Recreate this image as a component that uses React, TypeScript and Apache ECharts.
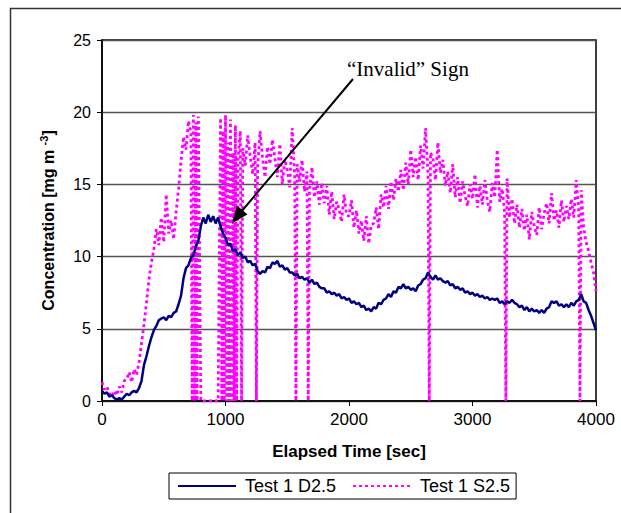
import React, { useEffect, useRef } from "react";
import * as echarts from "echarts";

// Sampling interval of both records (seconds)
const STEP = 20;

// Test 1 D2.5 concentration (mg m-3), one value every 20 s from 0 to 4000 s
const dValues = [
  0.7, 0.5, 0.6, 0.3, 0.4, 0.2, 0.1, 0.2, 0.1, 0.3,
  0.5, 0.4, 0.6, 0.7, 0.6, 0.9, 1.4, 2.5, 3.1, 3.8,
  4.4, 4.9, 5.2, 5.6, 5.7, 5.8, 5.6, 5.9, 5.8, 6.1,
  6.2, 6.7, 7.3, 8.5, 9.2, 9.4, 9.9, 10.1, 10.7, 11.1,
  12.1, 12.7, 12.3, 12.9, 12.4, 12.8, 12.3, 12.7, 12.1, 11.6,
  11.3, 10.8, 10.9, 10.4, 10.5, 10.1, 10.3, 9.9, 10.0, 9.6,
  9.7, 9.4, 9.5, 9.0, 8.8, 9.0, 8.9, 9.3, 9.2, 9.6,
  9.5, 9.7, 9.3, 9.4, 9.1, 9.2, 8.9, 8.9, 8.7, 8.8,
  8.5, 8.6, 8.4, 8.5, 8.2, 8.4, 8.1, 8.2, 7.9, 7.8,
  7.8, 7.5, 7.6, 7.4, 7.5, 7.3, 7.4, 7.1, 7.2, 7.0,
  7.1, 6.8, 6.9, 6.7, 6.8, 6.5, 6.6, 6.3, 6.4, 6.2,
  6.5, 6.4, 6.8, 6.7, 7.0, 7.1, 7.4, 7.2, 7.6, 7.5,
  7.9, 7.8, 8.1, 7.8, 7.9, 7.7, 7.8, 7.6, 8.0, 8.1,
  8.4, 8.5, 8.9, 8.6, 8.4, 8.7, 8.4, 8.5, 8.3, 8.2,
  8.3, 8.0, 8.1, 7.8, 7.9, 7.7, 7.8, 7.5, 7.6, 7.4,
  7.5, 7.3, 7.4, 7.2, 7.3, 7.1, 7.2, 7.0, 7.1, 7.0,
  7.1, 6.8, 6.9, 6.7, 6.9, 6.8, 7.0, 6.8, 6.7, 6.5,
  6.6, 6.3, 6.5, 6.2, 6.4, 6.2, 6.3, 6.1, 6.3, 6.1,
  6.4, 6.5, 6.9, 6.8, 6.9, 6.6, 6.7, 6.5, 6.7, 6.5,
  6.8, 6.6, 6.9, 7.0, 7.4, 6.9, 6.8, 6.3, 5.9, 5.4,
  4.9,
];

// Test 1 S2.5 concentration (mg m-3), one value every 20 s from 0 to 4000 s
const sValues = [
  1.3, 0.8, 1.0, 0.5, 0.3, 0.7, 0.4, 1.0, 0.6, 1.4,
  1.5, 2.0, 1.3, 2.2, 1.8, 2.7, 4.0, 5.3, 6.8, 8.4,
  9.6, 10.5, 11.9, 10.8, 12.7, 11.0, 14.3, 11.6, 12.5, 11.2,
  13.1, 14.7, 16.6, 18.3, 17.4, 19.4, 18.6, 19.8, 19.3, 19.7,
  0, 0, 0, 0, 0, 0, 0, 0, 19.6, 18.7,
  19.8, 17.9, 19.5, 17.2, 19.1, 16.6, 18.7, 17.5, 16.3, 18.4,
  16.9, 15.7, 17.9, 16.2, 18.7, 16.8, 15.5, 17.6, 16.4, 18.1,
  16.8, 15.5, 17.8, 15.0, 16.7, 16.0, 14.8, 18.9, 15.6, 16.4,
  15.2, 16.7, 14.5, 15.9, 14.6, 16.2, 14.1, 15.2, 13.6, 15.1,
  13.7, 14.9, 12.9, 14.5, 12.6, 13.8, 13.3, 12.4, 14.3, 12.9,
  12.8, 13.9, 12.0, 13.2, 11.6, 12.5, 11.1, 12.8, 10.9, 12.2,
  12.3, 13.4, 11.9, 14.3, 13.4, 14.9, 13.3, 15.2, 13.9, 15.4,
  14.5, 16.0, 14.6, 16.5, 15.0, 17.4, 15.5, 16.9, 15.3, 17.7,
  16.1, 18.9, 15.7, 17.2, 16.8, 15.3, 17.9, 15.8, 16.7, 14.9,
  15.9, 14.4, 16.4, 14.1, 15.5, 13.7, 15.2, 14.2, 13.5, 15.0,
  14.0, 15.7, 13.4, 14.9, 13.6, 15.3, 13.9, 13.1, 15.1, 14.1,
  17.4, 13.8, 14.7, 13.1, 15.4, 12.7, 14.0, 12.3, 13.6, 12.0,
  13.3, 11.8, 12.9, 11.2, 13.1, 12.1, 11.5, 13.4, 11.9, 13.0,
  13.7, 12.3, 14.4, 12.5, 13.2, 12.0, 13.9, 12.4, 13.5, 12.6,
  14.0, 12.7, 15.3, 13.2, 14.6, 12.0, 11.0, 10.4, 9.6, 8.9,
  7.6,
];

// Times (s) at which the S2.5 instrument shows its "invalid" sign (reading drops to 0)
const sDropTimes = [730, 750, 770, 970, 990, 1010, 1030, 1050, 1070, 1090, 1130, 1250, 1570, 1670, 2650, 3270, 3870];

const xTicks = { min: 0, max: 4000, interval: 1000 };
const yTicks = { min: 0, max: 25, interval: 5 };

const seriesNames = ["Test 1 D2.5", "Test 1 S2.5"];
const annotationText = "\u201cInvalid\u201d Sign";

export default function App() {
  const ref = useRef<HTMLDivElement>(null);

  useEffect(() => {
    if (!ref.current) return;
    const chart = echarts.init(ref.current, null, { renderer: "svg" });

    const dData = dValues.map((v, i) => [i * STEP, v]);
    const sData = sValues
      .map((v, i) => [i * STEP, v])
      .concat(sDropTimes.map((t) => [t, 0]))
      .sort((a, b) => a[0] - b[0]);

    const sans = "Liberation Sans, Arial, sans-serif";

    chart.setOption({
      animation: false,
      backgroundColor: "#fff",
      grid: {
        left: 102,
        top: 40,
        width: 494,
        height: 361,
        show: true,
        borderColor: "#000",
        borderWidth: 1.5,
        backgroundColor: "transparent",
      },
      xAxis: {
        type: "value",
        min: xTicks.min,
        max: xTicks.max,
        interval: xTicks.interval,
        name: "Elapsed Time [sec]",
        nameLocation: "middle",
        nameGap: 42,
        nameTextStyle: { fontFamily: sans, fontSize: 17, fontWeight: "bold", color: "#000" },
        axisLine: { show: true, onZero: false, lineStyle: { color: "#000", width: 1.5 } },
        axisTick: { show: true, inside: false, length: 5, lineStyle: { color: "#000" } },
        axisLabel: {
          fontFamily: sans,
          fontSize: 17,
          color: "#000",
          margin: 10,
          formatter: (v: number) => String(v),
        },
        splitLine: { show: false },
      },
      yAxis: {
        type: "value",
        min: yTicks.min,
        max: yTicks.max,
        interval: yTicks.interval,
        name: "{b|Concentration [mg m }{s|-3}{b|]}",
        nameLocation: "middle",
        nameGap: 44,
        nameRotate: 90,
        nameTextStyle: {
          rich: {
            b: { fontFamily: sans, fontSize: 16, fontWeight: "bold", color: "#000", lineHeight: 20 },
            s: { fontFamily: sans, fontSize: 11, fontWeight: "bold", color: "#000", lineHeight: 20, verticalAlign: "top" },
          },
        },
        axisLine: { show: true, lineStyle: { color: "#000", width: 1.5 } },
        axisTick: { show: true, inside: false, length: 5, lineStyle: { color: "#000" } },
        axisLabel: { fontFamily: sans, fontSize: 16, color: "#000", margin: 11 },
        splitLine: { show: true, lineStyle: { color: "#555", width: 1.3 } },
      },
      legend: {
        left: 169,
        top: 473,
        orient: "horizontal",
        data: seriesNames,
        borderColor: "#000",
        borderWidth: 1,
        padding: [4, 6, 4, 8],
        itemGap: 16,
        itemWidth: 58,
        itemHeight: 10,
        itemStyle: { opacity: 0 },
        textStyle: { fontFamily: sans, fontSize: 18, color: "#000", padding: [0, 0, 0, 4] },
      },
      series: [
        {
          name: seriesNames[0],
          type: "line",
          data: dData,
          symbol: "none",
          color: "#000080",
          lineStyle: { color: "#000080", width: 2.5 },
          z: 3,
        },
        {
          name: seriesNames[1],
          type: "line",
          data: sData,
          symbol: "none",
          color: "#ff00ff",
          lineStyle: { color: "#ff00ff", width: 2.8, type: [3, 3], cap: "butt" },
          z: 2,
        },
      ],
      graphic: [
        {
          type: "rect",
          silent: true,
          shape: { x: 10.5, y: 8.5, width: 640, height: 540 },
          style: { fill: "none", stroke: "#333", lineWidth: 1.5 },
        },
        {
          type: "text",
          x: 347,
          y: 58,
          style: {
            text: annotationText,
            fontFamily: "Liberation Serif, Times New Roman, serif",
            fontSize: 21,
            fill: "#000",
          },
          z: 10,
        },
        {
          type: "line",
          shape: { x1: 353, y1: 79, x2: 241, y2: 212 },
          style: { stroke: "#000", lineWidth: 2 },
          z: 10,
        },
        {
          type: "polygon",
          shape: { points: [[232, 223], [247.5, 214.5], [237, 205.5]] },
          style: { fill: "#000" },
          z: 10,
        },
      ],
    });

    return () => chart.dispose();
  }, []);

  return (
    <div
      ref={ref}
      style={{ position: "absolute", left: 0, top: 0, width: 621, height: 513, background: "#fff" }}
    />
  );
}
